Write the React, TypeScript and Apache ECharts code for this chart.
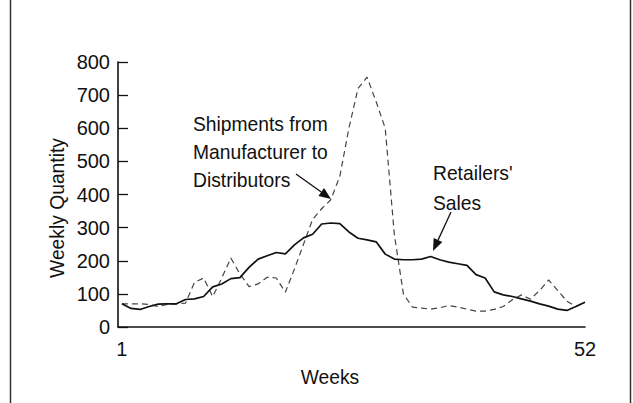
import React, { useEffect, useRef } from "react";
import * as echarts from "echarts";

const weeks = [1, 2, 3, 4, 5, 6, 7, 8, 9, 10, 11, 12, 13, 14, 15, 16, 17, 18, 19, 20, 21, 22, 23, 24, 25, 26, 27, 28, 29, 30, 31, 32, 33, 34, 35, 36, 37, 38, 39, 40, 41, 42, 43, 44, 45, 46, 47, 48, 49, 50, 51, 52];

const retailersSales = [70, 56, 53, 62, 69, 70, 70, 83, 85, 92, 121, 130, 146, 149, 180, 205, 215, 225, 221, 248, 269, 280, 311, 314, 312, 287, 268, 263, 257, 220, 205, 203, 203, 205, 213, 203, 196, 191, 186, 158, 148, 106, 97, 92, 85, 78, 70, 63, 54, 50, 62, 75];

const shipments = [70, 70, 70, 68, 62, 68, 70, 72, 135, 148, 92, 148, 208, 160, 122, 130, 150, 148, 105, 175, 250, 325, 357, 384, 455, 600, 720, 754, 680, 600, 280, 100, 60, 57, 54, 58, 65, 60, 54, 48, 48, 53, 62, 82, 97, 84, 110, 142, 110, 78, 62, 75];

const xLabelWeeks = [1, 52];
const shipmentsLabel = "Shipments from\nManufacturer to\nDistributors";
const retailLabel = "Retailers'\nSales";
const xAxisTitle = "Weeks";
const yAxisTitle = "Weekly Quantity";

const FONT = "'Liberation Sans', Arial, sans-serif";
const INK = "#111";
const SQUEEZE = 0.94;

function arrow(x1: number, y1: number, x2: number, y2: number) {
  const dx = x2 - x1;
  const dy = y2 - y1;
  const len = Math.sqrt(dx * dx + dy * dy);
  const ux = dx / len;
  const uy = dy / len;
  const hl = 12;
  const hw = 4.8;
  const bx = x2 - ux * hl;
  const by = y2 - uy * hl;
  return [
    {
      type: "line",
      shape: { x1, y1, x2: bx, y2: by },
      style: { stroke: INK, lineWidth: 1.3 },
      silent: true,
    },
    {
      type: "polygon",
      shape: {
        points: [
          [x2, y2],
          [bx - uy * hw, by + ux * hw],
          [bx + uy * hw, by - ux * hw],
        ],
      },
      style: { fill: INK },
      silent: true,
    },
  ];
}

export default function App() {
  const ref = useRef<HTMLDivElement>(null);
  useEffect(() => {
    const chart = echarts.init(ref.current!, null, { renderer: "svg" });
    chart.setOption({
      animation: false,
      backgroundColor: "#ffffff",
      grid: { left: 118, right: 48, top: 62, bottom: 76 },
      xAxis: {
        type: "value",
        min: 0.57,
        max: 52,
        axisLine: { show: true, lineStyle: { color: INK, width: 1.6 } },
        axisTick: { show: false },
        splitLine: { show: false },
        axisLabel: {
          customValues: xLabelWeeks,
          margin: 12,
          color: INK,
          fontSize: 20,
          fontFamily: FONT,
        },
      },
      yAxis: {
        type: "value",
        min: 0,
        max: 800,
        interval: 100,
        axisLine: { show: true, lineStyle: { color: INK, width: 1.6 } },
        axisTick: { show: true, inside: true, length: 10, lineStyle: { color: INK, width: 1.3 } },
        splitLine: { show: false },
        axisLabel: { margin: 8, color: INK, fontSize: 20, fontFamily: FONT },
      },
      series: [
        {
          name: "Shipments from Manufacturer to Distributors",
          type: "line",
          data: weeks.map((w, i) => [w, shipments[i]]),
          symbol: "none",
          lineStyle: { color: "#444", width: 1.2, type: [6, 4] },
          z: 2,
        },
        {
          name: "Retailers' Sales",
          type: "line",
          data: weeks.map((w, i) => [w, retailersSales[i]]),
          symbol: "none",
          lineStyle: { color: INK, width: 1.7, type: "solid" },
          z: 3,
        },
      ],
      graphic: [
        { type: "line", shape: { x1: 10.5, y1: 0, x2: 10.5, y2: 403 }, style: { stroke: "#333", lineWidth: 1.5 }, silent: true },
        { type: "line", shape: { x1: 630.5, y1: 0, x2: 630.5, y2: 403 }, style: { stroke: "#333", lineWidth: 1.5 }, silent: true },
        {
          type: "text",
          x: 193,
          y: 110,
          scaleX: SQUEEZE,
          style: { text: shipmentsLabel, font: `20.5px ${FONT}`, lineHeight: 28, fill: INK },
          silent: true,
        },
        {
          type: "text",
          x: 433,
          y: 158,
          scaleX: SQUEEZE,
          style: { text: retailLabel, font: `20.5px ${FONT}`, lineHeight: 30, fill: INK },
          silent: true,
        },
        {
          type: "text",
          x: 330,
          y: 377,
          scaleX: SQUEEZE,
          style: { text: xAxisTitle, font: `20.5px ${FONT}`, fill: INK, align: "center", verticalAlign: "middle" },
          silent: true,
        },
        {
          type: "text",
          x: 57,
          y: 208,
          rotation: Math.PI / 2,
          scaleX: SQUEEZE,
          style: { text: yAxisTitle, font: `20.5px ${FONT}`, fill: INK, align: "center", verticalAlign: "middle" },
          silent: true,
        },
        ...arrow(296, 174, 331, 199),
        ...arrow(451, 212, 433, 251),
      ],
    });
    return () => chart.dispose();
  }, []);
  return <div ref={ref} style={{ position: "fixed", left: 0, top: 0, width: 633, height: 403 }} />;
}
